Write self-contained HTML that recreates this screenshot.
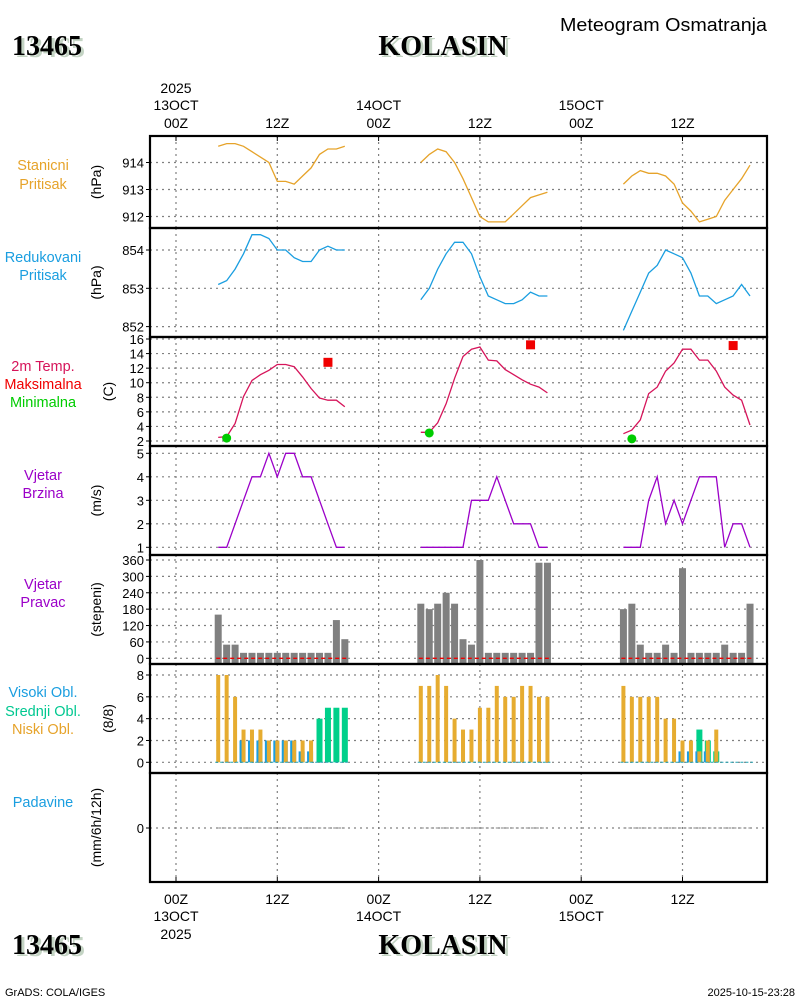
<!DOCTYPE html>
<html><head><meta charset="utf-8">
<style>
html,body{margin:0;padding:0;background:#fff;}
svg{display:block;font-family:"Liberation Sans",sans-serif;}
</style></head>
<body>
<svg id="chart" width="800" height="1000" viewBox="0 0 800 1000" xmlns="http://www.w3.org/2000/svg">
<rect x="0" y="0" width="800" height="1000" fill="#fff"/>
<g>
<text x="15" y="57" font-family="Liberation Serif,serif" font-weight="bold" font-size="28" fill="#c4d4c4">13465</text>
<text x="12" y="55" font-family="Liberation Serif,serif" font-weight="bold" font-size="28" fill="#000">13465</text>
<text x="446" y="57" text-anchor="middle" font-family="Liberation Serif,serif" font-weight="bold" font-size="28" fill="#c4d4c4">KOLASIN</text>
<text x="443" y="55" text-anchor="middle" font-family="Liberation Serif,serif" font-weight="bold" font-size="28" fill="#000">KOLASIN</text>
<text x="560" y="31" textLength="207" lengthAdjust="spacingAndGlyphs" font-size="18" fill="#000">Meteogram Osmatranja</text>
</g>
<g>
<text x="15" y="956" font-family="Liberation Serif,serif" font-weight="bold" font-size="28" fill="#c4d4c4">13465</text>
<text x="12" y="954" font-family="Liberation Serif,serif" font-weight="bold" font-size="28" fill="#000">13465</text>
<text x="446" y="956" text-anchor="middle" font-family="Liberation Serif,serif" font-weight="bold" font-size="28" fill="#c4d4c4">KOLASIN</text>
<text x="443" y="954" text-anchor="middle" font-family="Liberation Serif,serif" font-weight="bold" font-size="28" fill="#000">KOLASIN</text>
<text x="5" y="996" font-size="11" fill="#000">GrADS: COLA/IGES</text>
<text x="795" y="996" text-anchor="end" font-size="11" fill="#000">2025-10-15-23:28</text>
</g>
<g id="plot"></g>
</svg>
<script>
// ---- data ----
const obsHours = [5,6,7,8,9,10,11,12,13,14,15,16,17,18,19,20];
const dayOffsets = [0,24,48];
const presStation1 = [914.6,914.7,914.7,914.6,914.4,914.2,914.0,913.3,913.3,913.2,913.5,913.8,914.3,914.5,914.5,914.6];
const presStation2 = [914.0,914.3,914.5,914.4,914.0,913.4,912.7,912.0,911.8,911.8,911.8,912.1,912.4,912.7,912.8,912.9];
const presStation3 = [913.2,913.5,913.7,913.6,913.6,913.5,913.2,912.5,912.2,911.8,911.9,912.0,912.6,913.0,913.4,913.9];
const presReduced1 = [853.1,853.2,853.5,853.9,854.4,854.4,854.3,854.0,854.0,853.8,853.7,853.7,854.0,854.1,854.0,854.0];
const presReduced2 = [852.7,853.0,853.5,853.9,854.2,854.2,853.9,853.3,852.8,852.7,852.6,852.6,852.7,852.9,852.8,852.8];
const presReduced3 = [851.9,852.4,852.9,853.4,853.6,854.0,853.9,853.8,853.4,852.8,852.8,852.6,852.7,852.8,853.1,852.8];
const temp1 = [2.5,2.6,4.4,8.1,10.3,11.1,11.7,12.5,12.5,12.2,10.8,9.2,7.9,7.6,7.6,6.7];
const temp2 = [3.2,3.2,4.5,7.1,10.6,13.6,14.6,14.9,13.1,13.0,11.8,11.1,10.4,9.8,9.4,8.6];
const temp3 = [3.0,3.5,4.9,8.5,9.4,11.6,12.7,14.6,14.6,13.1,13.1,11.6,9.4,8.3,7.6,4.2];
const tMaxHour = [18,18,18];
const tMaxValue = [12.8,15.2,15.1];
const tMinHour = [6,6,6];
const tMinValue = [2.4,3.1,2.3];
const windSpeed1 = [1,1,2,3,4,4,5,4,5,5,4,4,3,2,1,1];
const windSpeed2 = [1,1,1,1,1,1,3,3,3,4,3,2,2,2,1,1];
const windSpeed3 = [1,1,1,3,4,2,3,2,3,4,4,4,1,2,2,1];
const windDir1 = [160,50,50,20,20,20,20,20,20,20,20,20,20,20,140,70];
const windDir2 = [200,180,200,240,200,70,50,360,20,20,20,20,20,20,350,350];
const windDir3 = [180,200,50,20,20,50,20,330,20,20,20,20,50,20,20,200];
const cloudLow1 = [8,8,6,3,3,3,2,2,2,2,2,2,0,0,0,0];
const cloudLow2 = [7,7,8,7,4,3,3,5,5,7,6,6,7,7,6,6];
const cloudLow3 = [7,6,6,6,6,4,4,2,2,1,2,3,0,0,0,0];
const cloudHigh1 = [0,0,0,2,2,2,2,2,2,2,1,1,0,0,0,0];
const cloudHigh2 = [0,0,0,0,0,0,0,0,0,0,0,0,0,0,0,0];
const cloudHigh3 = [0,0,0,0,0,0,0,1,1,1,1,0,0,0,0,0];
const cloudMid1 = [0,0,0,0,0,0,0,0,0,0,0,0,4,5,5,5];
const cloudMid2 = [0,0,0,0,0,0,0,0,0,0,0,0,0,0,0,0];
const cloudMid3 = [0,0,0,0,0,0,0,0,0,3,2,1,0,0,0,0];
const precip1 = [0,0,0,0,0,0,0,0,0,0,0,0,0,0,0,0];
const precip2 = [0,0,0,0,0,0,0,0,0,0,0,0,0,0,0,0];
const precip3 = [0,0,0,0,0,0,0,0,0,0,0,0,0,0,0,0];
const timeTickHours = [0,12,24,36,48,60];
const timeTickLabels = ["00Z","12Z","00Z","12Z","00Z","12Z"];
const dateLabels = ["13OCT","14OCT","15OCT"];
const yearLabel = "2025";
const presStationTicks = [912,913,914];
const presReducedTicks = [852,853,854];
const tempTicks = [2,4,6,8,10,12,14,16];
const speedTicks = [1,2,3,4,5];
const dirTicks = [0,60,120,180,240,300,360];
const cloudTicks = [0,2,4,6,8];
const precipTicks = [0];

// ---- layout ----
const NS = "http://www.w3.org/2000/svg";
const plot = document.getElementById('plot');
const L = 150, R = 767;
function xt(h){ return 176 + h * (101.3/12); }
function el(tag, attrs, parent){
  const e = document.createElementNS(NS, tag);
  for (const k in attrs) e.setAttribute(k, attrs[k]);
  (parent||plot).appendChild(e);
  return e;
}
function lin(d0,d1,p0,p1){ return v => p0 + (v-d0)*(p1-p0)/(d1-d0); }

const panels = [
  {top:136,bot:228,y:lin(914,913,162.5,189.5),ticks:presStationTicks,title:"(hPa)",labels:[["Stanicni","#e6a32a"],["Pritisak","#e6a32a"]],name:"station-pressure"},
  {top:228,bot:337,y:lin(854,853,250,288.3),ticks:presReducedTicks,title:"(hPa)",labels:[["Redukovani","#1a9ee0"],["Pritisak","#1a9ee0"]],name:"reduced-pressure"},
  {top:337,bot:446,y:lin(2,16,441,339),ticks:tempTicks,title:"(C)",labels:[["2m Temp.","#d6145a"],["Maksimalna","#f00000"],["Minimalna","#00cc00"]],name:"temperature"},
  {top:446,bot:555,y:lin(1,5,547.3,453.3),ticks:speedTicks,title:"(m/s)",labels:[["Vjetar","#9b00c8"],["Brzina","#9b00c8"]],name:"wind-speed"},
  {top:555,bot:664,y:lin(0,360,658.3,560),ticks:dirTicks,title:"(stepeni)",labels:[["Vjetar","#9b00c8"],["Pravac","#9b00c8"]],name:"wind-direction"},
  {top:664,bot:773,y:lin(0,8,762.3,675),ticks:cloudTicks,title:"(8/8)",labels:[["Visoki Obl.","#1a9ee0"],["Srednji Obl.","#00c890"],["Niski Obl.","#e6a32a"]],name:"cloud-cover"},
  {top:773,bot:882,y:lin(0,1,828,800),ticks:precipTicks,title:"(mm/6h/12h)",labels:[["Padavine","#1a9ee0"]],name:"precipitation"}
];
const labelY = [[165,184],[257,275],[366,384,402],[475,493],[584,602],[692,711,729],[802]];

panels.forEach((p,i)=>{
  const g = el('g',{});
  
  
  timeTickHours.forEach(h=>{
    const ln = el('line',{x1:xt(h),x2:xt(h),y1:p.top,y2:p.bot,stroke:"#808080","stroke-width":1.2,"stroke-dasharray":"2,4"},g);
    
    
  });
  p.ticks.forEach(v=>{
    const y = p.y(v);
    const ln = el('line',{x1:L,x2:R,y1:y,y2:y,stroke:"#808080","stroke-width":1.2,"stroke-dasharray":"2,4"},g);
    
    
    const tk = el('line',{x1:L-4,x2:L,y1:y,y2:y,stroke:"#000","stroke-width":1},g);
    
    
    const t = el('text',{x:L-6,y:y+5,"text-anchor":"end","font-size":13,fill:"#000"},g);
    t.textContent = v;
    
    
  });
  const cy = (p.top+p.bot)/2;
  const tt = el('text',{x:0,y:0,"text-anchor":"middle","font-size":14,fill:"#000",transform:`translate(${i==2||i==5?113:101},${cy}) rotate(-90)`},g);
  tt.textContent = p.title;
  
  
  p.labels.forEach((lb,j)=>{
    const t = el('text',{x:43,y:labelY[i][j]+5,"text-anchor":"middle","font-size":14.5,fill:lb[1]},g);
    t.textContent = lb[0];
    
    
  });
});

const ax = el('g',{});


timeTickHours.forEach((h,i)=>{
  const x = xt(h);
  [[136,141],[877,882]].forEach(pr=>{
    const tk = el('line',{x1:x,x2:x,y1:pr[0],y2:pr[1],stroke:"#000","stroke-width":1},ax);
    
    
  });
  const t1 = el('text',{x:x,y:128,"text-anchor":"middle","font-size":14,fill:"#000"},ax);
  t1.textContent = timeTickLabels[i];
  
  
  const t2 = el('text',{x:x,y:904,"text-anchor":"middle","font-size":14,fill:"#000"},ax);
  t2.textContent = timeTickLabels[i];
  
  
});
dateLabels.forEach((d,i)=>{
  const x = xt(i*24);
  const a = el('text',{x:x,y:110,"text-anchor":"middle","font-size":14,fill:"#000"},ax);
  a.textContent = d;
  
  
  const b = el('text',{x:x,y:921,"text-anchor":"middle","font-size":14,fill:"#000"},ax);
  b.textContent = d;
  
  
});
const ya = el('text',{x:xt(0),y:93,"text-anchor":"middle","font-size":14,fill:"#000"},ax);
ya.textContent = yearLabel;


const yb = el('text',{x:xt(0),y:939,"text-anchor":"middle","font-size":14,fill:"#000"},ax);
yb.textContent = yearLabel;



function line(p, days, color, name){
  days.forEach((arr,d)=>{
    const pts = arr.map((v,k)=>xt(dayOffsets[d]+obsHours[k]).toFixed(1)+","+p.y(v).toFixed(1)).join(" ");
    const pl = el('polyline',{points:pts,fill:"none",stroke:color,"stroke-width":1.3});
    
    
  });
}
line(panels[0],[presStation1,presStation2,presStation3],"#e6a32a","station-pressure-line");
line(panels[1],[presReduced1,presReduced2,presReduced3],"#1a9ee0","reduced-pressure-line");
line(panels[2],[temp1,temp2,temp3],"#d6145a","temperature-line");
line(panels[3],[windSpeed1,windSpeed2,windSpeed3],"#9b00c8","wind-speed-line");

tMaxHour.forEach((h,d)=>{
  const r = el('rect',{x:xt(dayOffsets[d]+h)-4.5,y:panels[2].y(tMaxValue[d])-4.5,width:9,height:9,fill:"#f00000"});
  
  
});
tMinHour.forEach((h,d)=>{
  const c = el('circle',{cx:xt(dayOffsets[d]+h),cy:panels[2].y(tMinValue[d]),r:4.5,fill:"#00cc00"});
  
  
});

[windDir1,windDir2,windDir3].forEach((arr,d)=>{
  const p = panels[4];
  arr.forEach((v,k)=>{
    const x = xt(dayOffsets[d]+obsHours[k]);
    const y = p.y(v);
    const b = el('rect',{x:x-3.5,y:y,width:7,height:663-y,fill:"#808080"});
    
    
  });
  const x0 = xt(dayOffsets[d]+obsHours[0]), x1 = xt(dayOffsets[d]+obsHours[obsHours.length-1]);
  const dl = el('line',{x1:x0-2,x2:x1+2,y1:p.y(0),y2:p.y(0),stroke:"#f00000","stroke-width":1.3,"stroke-dasharray":"4,3"});
  
  
});

const cp = panels[5];
[[cloudMid1,cloudMid2,cloudMid3,"#00d08a",6,"mid-cloud-bar",0],
 [cloudHigh1,cloudHigh2,cloudHigh3,"#1a9ee0",6,"high-cloud-bar",-1],
 [cloudLow1,cloudLow2,cloudLow3,"#e6ac30",4,"low-cloud-bar",0]].forEach(s=>{
  [s[0],s[1],s[2]].forEach((arr,d)=>{
    arr.forEach((v,k)=>{
      if(v<=0) return;
      const x = xt(dayOffsets[d]+obsHours[k]) + s[6];
      const y = cp.y(v);
      const b = el('rect',{x:x-s[4]/2,y:y,width:s[4],height:cp.y(0)-y,fill:s[3]});
      
      
    });
  });
});
dayOffsets.forEach(off=>{
  const x0 = xt(off+obsHours[0]), x1 = xt(off+obsHours[obsHours.length-1]);
  const zl = el('line',{x1:x0-3,x2:x1+3,y1:cp.y(0),y2:cp.y(0),stroke:"#20a0b0","stroke-width":1,"stroke-dasharray":"3,2"});
  
  
});

[precip1,precip2,precip3].forEach((arr,d)=>{
  const p = panels[6];
  const pts = arr.map((v,k)=>xt(dayOffsets[d]+obsHours[k]).toFixed(1)+","+p.y(v).toFixed(1)).join(" ");
  const pl = el('polyline',{points:pts,fill:"none",stroke:"#808080","stroke-width":1,"stroke-dasharray":"3,2"});
  
  
});

panels.forEach(p=>{
  const f = el('rect',{x:L,y:p.top,width:R-L,height:p.bot-p.top,fill:"none",stroke:"#000","stroke-width":2.2});
  
  
});
</script>
</body></html>
